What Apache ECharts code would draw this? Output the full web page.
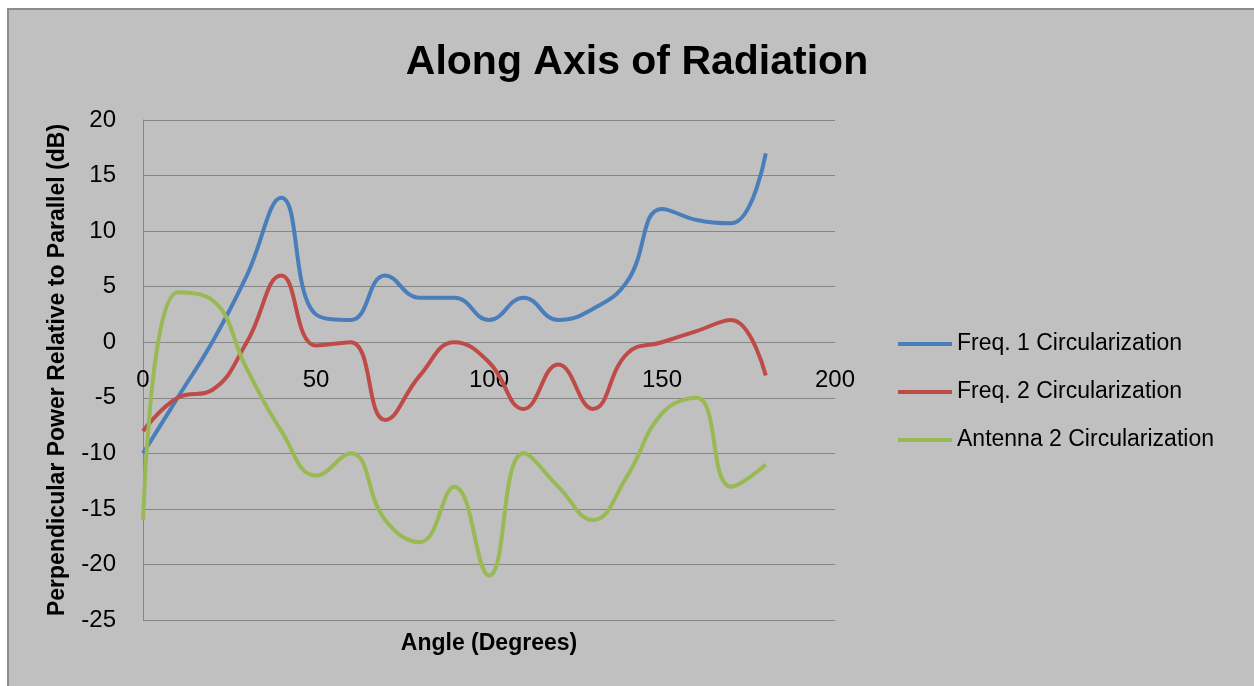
<!DOCTYPE html>
<html>
<head>
<meta charset="utf-8">
<script src="https://cdn.jsdelivr.net/npm/echarts@6/dist/echarts.min.js"></script>
<style>
  html, body { margin: 0; padding: 0; background: #fff; }
  #frame {
    position: absolute; left: 7px; top: 8px; width: 1247px; height: 678px;
    background: #c0c0c0; border-left: 2px solid #8c8c8c; border-top: 2px solid #8c8c8c;
    box-sizing: border-box;
  }
  #chart { position: absolute; left: 0; top: 0; width: 1254px; height: 686px; }
</style>
</head>
<body>
<div id="frame"></div>
<div id="chart"></div>
<script>
// angle in degrees
const angles = [0, 10, 20, 30, 40, 50, 60, 70, 80, 90, 100, 110, 120, 130, 140, 150, 160, 170, 180]

// perpendicular power relative to parallel (dB)
const freq1 = [-10, -5, 0, 6, 13, 2.5, 2, 6, 4, 4, 2, 4, 2, 3, 5.5, 12, 11, 10.7, 17]
const freq2 = [-8, -5, -4.3, 0, 6, -0.3, 0, -7, -3, 0, -1.8, -6, -2, -6, -1, 0, 1, 2, -3]
const antenna2 = [-16, 4.5, 3.8, -2.4, -8, -12, -10, -16, -18, -13, -21, -10, -13, -16, -12, -6.4, -5, -13, -11]

const seriesNames = ['Freq. 1 Circularization', 'Freq. 2 Circularization', 'Antenna 2 Circularization']
const seriesColors = ['#4a7ebb', '#be4b48', '#98b954']

const font = '"Liberation Sans", Arial, sans-serif'

// plot area, y range
const gridTop = 120
const gridBottom = 66
const yMin = -25
const yMax = 20
const plotHeight = 686 - gridTop - gridBottom
// x axis crosses at y = 0, like the Excel chart
const zeroOffset = -Math.round((0 - yMin) / (yMax - yMin) * plotHeight)

const toPairs = (values) => angles.map((a, i) => [a, values[i]])

const chart = echarts.init(document.getElementById('chart'))
chart.setOption({
  backgroundColor: 'transparent',
  animation: false,
  textStyle: { fontFamily: font },
  title: {
    text: 'Along Axis of Radiation',
    left: 632,
    textAlign: 'center',
    top: 37,
    textStyle: { fontSize: 41, fontWeight: 'bold', color: '#000', fontFamily: font }
  },
  grid: { left: 143, right: 419, top: gridTop, bottom: gridBottom, containLabel: false, outerBoundsMode: 'none' },
  legend: {
    orient: 'vertical',
    left: 893,
    top: 327,
    icon: 'rect',
    itemWidth: 54,
    itemHeight: 4,
    itemGap: 24,
    textStyle: { fontSize: 23, lineHeight: 24, color: '#000', fontFamily: font },
    data: seriesNames
  },
  xAxis: {
    type: 'value',
    min: 0,
    max: 200,
    interval: 50,
    offset: zeroOffset,
    name: 'Angle (Degrees)',
    nameLocation: 'middle',
    nameGap: 290,
    nameTextStyle: { fontSize: 23, fontWeight: 'bold', color: '#000', fontFamily: font },
    axisLine: { show: true, onZero: false, lineStyle: { color: '#868686', width: 1 } },
    axisTick: { show: false },
    axisLabel: { fontSize: 24, color: '#000', margin: 26, fontFamily: font },
    splitLine: { show: false }
  },
  yAxis: {
    type: 'value',
    min: yMin,
    max: yMax,
    interval: 5,
    name: 'Perpendicular Power Relative to Parallel (dB)',
    nameLocation: 'middle',
    nameRotate: 90,
    nameGap: 74,
    nameTextStyle: { fontSize: 23, fontWeight: 'bold', color: '#000', fontFamily: font },
    axisLine: { show: true, onZero: false, lineStyle: { color: '#868686', width: 1 } },
    axisTick: { show: false },
    axisLabel: { fontSize: 24, color: '#000', margin: 27, fontFamily: font },
    splitLine: { show: true, lineStyle: { color: '#868686', width: 1 } }
  },
  series: [freq1, freq2, antenna2].map((vals, i) => ({
    name: seriesNames[i],
    type: 'line',
    data: toPairs(vals),
    smooth: 0.45,
    symbol: 'none',
    lineStyle: { width: 4, color: seriesColors[i] },
    itemStyle: { color: seriesColors[i] }
  }))
})
</script>
</body>
</html>
